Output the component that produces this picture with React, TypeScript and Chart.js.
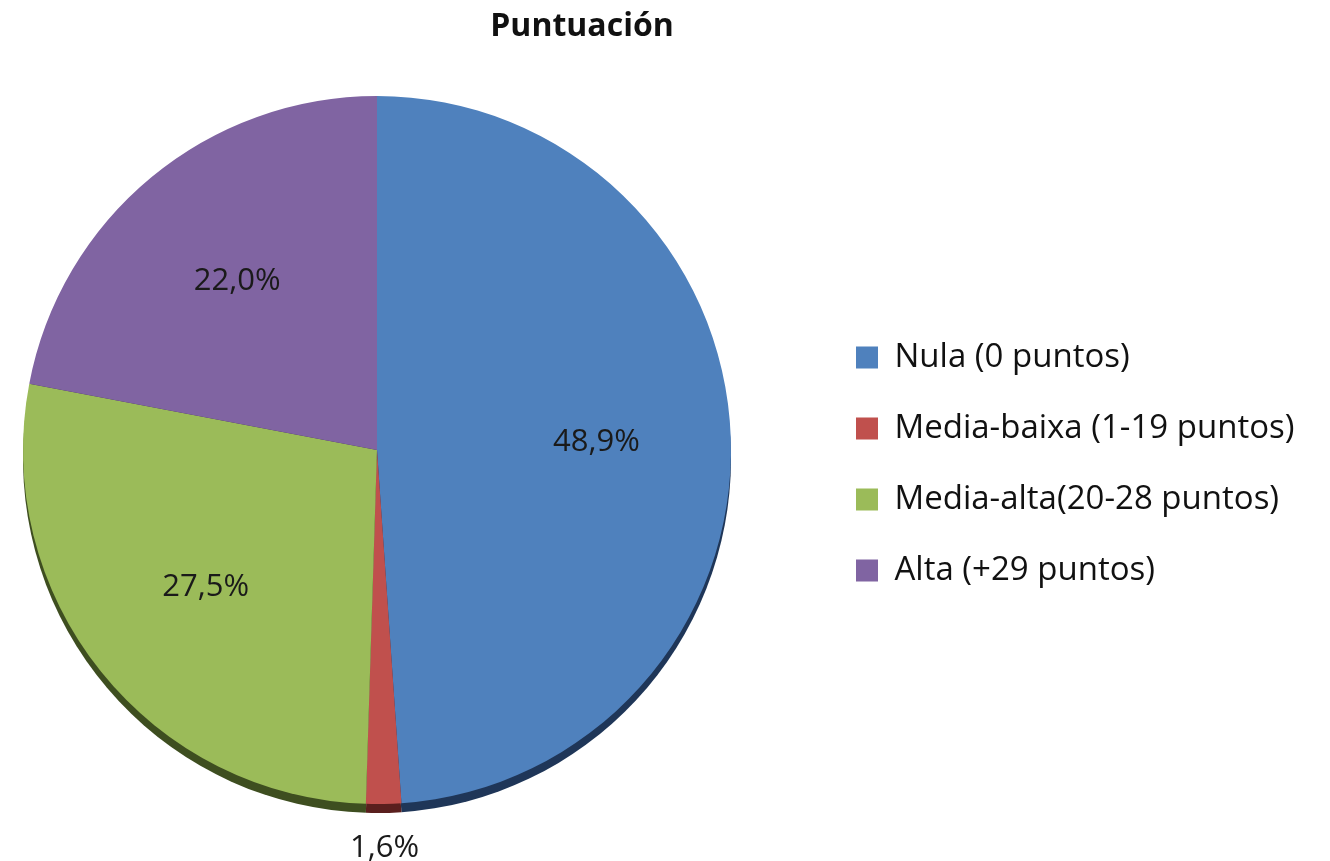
import React, { useEffect, useRef } from "react";
import { Chart, registerables } from "chart.js";

Chart.register(...registerables);

const categories = [
  "Nula (0 puntos)",
  "Media-baixa (1-19 puntos)",
  "Media-alta(20-28 puntos)",
  "Alta (+29 puntos)",
];
const percentages = [48.9, 1.6, 27.5, 22.0];
const sliceColors = ["#4F81BD", "#C0504D", "#9BBB59", "#8064A2"];
const rimColors = ["#1F3658", "#5A1F1E", "#3E4E20", "#3A2C4E"];
const chartTitle = "Puntuación";

const FONT = "'Open Sans', Lato, sans-serif";
const CANVAS_W = 1600;
const CANVAS_H = 861;
const OFFSET_X = -166;
const TITLE_CENTER = 748; // canvas x of the title centre (page x 582)

const rimPlugin = {
  id: "rim",
  beforeDatasetsDraw(chart: any) {
    const meta = chart.getDatasetMeta(0);
    const ctx = chart.ctx;
    ctx.save();
    meta.data.forEach((arc: any, i: number) => {
      const { x, y, startAngle, endAngle, outerRadius } = arc.getProps(
        ["x", "y", "startAngle", "endAngle", "outerRadius"],
        true
      );
      ctx.beginPath();
      ctx.moveTo(x, y + 9);
      ctx.arc(x, y + 9, outerRadius, startAngle, endAngle);
      ctx.closePath();
      ctx.fillStyle = rimColors[i];
      ctx.fill();
    });
    ctx.restore();
  },
};

const titleShiftPlugin = {
  id: "titleShift",
  afterLayout(chart: any) {
    const t = chart.titleBlock;
    if (!t) return;
    const d = TITLE_CENTER - (t.left + t.right) / 2;
    t.left += d;
    t.right += d;
  },
};

const labelPlugin = {
  id: "sliceLabels",
  afterDatasetsDraw(chart: any) {
    const meta = chart.getDatasetMeta(0);
    const ctx = chart.ctx;
    ctx.save();
    ctx.font = `31px ${FONT}`;
    ctx.fillStyle = "#1a1a1a";
    ctx.textAlign = "center";
    ctx.textBaseline = "middle";
    meta.data.forEach((arc: any, i: number) => {
      const { x, y, startAngle, endAngle, outerRadius } = arc.getProps(
        ["x", "y", "startAngle", "endAngle", "outerRadius"],
        true
      );
      const mid = (startAngle + endAngle) / 2;
      const v = percentages[i];
      const dist = v < 5 ? outerRadius + 44 : outerRadius * 0.62;
      const tx = x + Math.cos(mid) * dist;
      const ty = y + Math.sin(mid) * dist;
      ctx.fillText(v.toFixed(1).replace(".", ",") + "%", tx, ty);
    });
    ctx.restore();
  },
};

export default function App() {
  const ref = useRef<HTMLCanvasElement | null>(null);

  useEffect(() => {
    const canvas = ref.current;
    if (!canvas) return;
    const legendFontSize = 33;
    const legendPad = 38;
    const boxW = 22;
    const mctx = canvas.getContext("2d")!;
    mctx.font = `${legendFontSize}px ${FONT}`;
    let maxW = 0;
    categories.forEach((c) => {
      maxW = Math.max(maxW, mctx.measureText(c).width);
    });
    const legendWidth = legendPad + boxW + legendFontSize / 2 + maxW + 10;
    const legendLeft = 984;
    const padRight = Math.max(0, CANVAS_W - legendLeft - legendWidth);

    const chart = new Chart(canvas, {
      type: "pie",
      data: {
        labels: categories,
        datasets: [
          {
            data: percentages,
            backgroundColor: sliceColors,
            borderWidth: 0,
            hoverOffset: 0,
          },
        ],
      },
      options: {
        responsive: false,
        animation: false,
        devicePixelRatio: 1,
        layout: { padding: { left: 102, right: padRight, top: 0, bottom: 57 } },
        plugins: {
          title: {
            display: true,
            text: chartTitle,
            color: "#111",
            font: { family: FONT, size: 32, weight: "bold" },
            padding: { top: 8, bottom: 49.6 },
          },
          legend: {
            position: "right",
            align: "center",
            title: {
              display: true,
              text: " ",
              font: { family: FONT, size: 10 },
              padding: { top: 112, bottom: 0 },
            },
            labels: {
              color: "#111",
              font: { family: FONT, size: legendFontSize },
              boxWidth: boxW,
              boxHeight: 22,
              padding: legendPad,
            },
          },
          tooltip: { enabled: false },
        },
      },
      plugins: [rimPlugin, titleShiftPlugin, labelPlugin],
    });
    return () => chart.destroy();
  }, []);

  return (
    <div
      style={{
        position: "fixed",
        left: 0,
        top: 0,
        width: 1330,
        height: 861,
        overflow: "hidden",
        background: "#fff",
      }}
    >
      <canvas
        ref={ref}
        width={CANVAS_W}
        height={CANVAS_H}
        style={{ position: "absolute", left: OFFSET_X, top: 0, width: CANVAS_W, height: CANVAS_H }}
      />
    </div>
  );
}
